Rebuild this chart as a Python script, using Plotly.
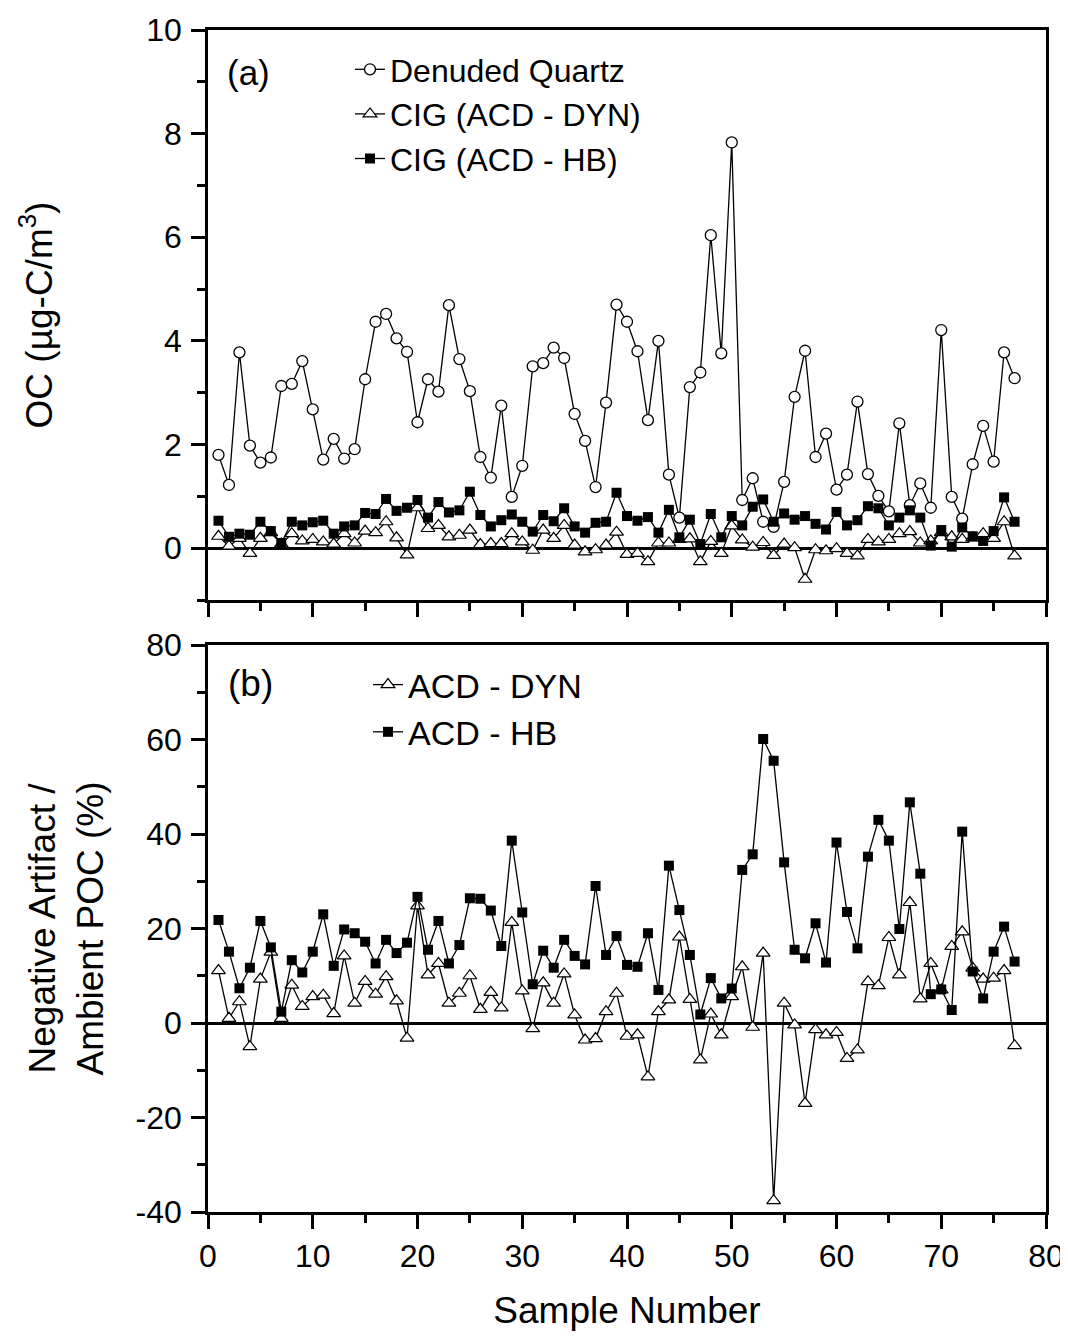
import plotly.graph_objects as go

samples = list(range(1, 78))

denuded_quartz = [1.80, 1.22, 3.78, 1.98, 1.65, 1.75, 3.13, 3.17, 3.61, 2.68,
                  1.71, 2.11, 1.73, 1.91, 3.26, 4.37, 4.52, 4.05, 3.79, 2.43,
                  3.26, 3.02, 4.69, 3.65, 3.03, 1.76, 1.36, 2.75, 0.99, 1.59,
                  3.51, 3.57, 3.87, 3.67, 2.59, 2.07, 1.18, 2.81, 4.70, 4.37,
                  3.80, 2.47, 4.00, 1.42, 0.59, 3.11, 3.39, 6.04, 3.76, 7.83,
                  0.93, 1.35, 0.51, 0.41, 1.28, 2.92, 3.81, 1.76, 2.21, 1.13,
                  1.42, 2.83, 1.43, 1.01, 0.71, 2.41, 0.83, 1.25, 0.78, 4.21,
                  0.99, 0.57, 1.62, 2.36, 1.67, 3.78, 3.28]

cig_dyn = [0.23, 0.04, 0.19, -0.10, 0.19, 0.30, 0.08, 0.28, 0.14, 0.17,
           0.12, 0.08, 0.28, 0.10, 0.33, 0.30, 0.51, 0.20, -0.13, 0.78,
           0.38, 0.44, 0.22, 0.25, 0.35, 0.07, 0.09, 0.09, 0.28, 0.12,
           -0.04, 0.35, 0.19, 0.44, 0.06, -0.07, -0.03, 0.06, 0.31, -0.12,
           -0.10, -0.26, 0.10, 0.10, 0.17, 0.18, -0.26, 0.13, -0.10, 0.43,
           0.16, 0.02, 0.11, -0.14, 0.08, 0.01, -0.60, -0.03, -0.05, -0.01,
           -0.10, -0.15, 0.17, 0.12, 0.17, 0.28, 0.32, 0.10, 0.14, 0.30,
           0.22, 0.17, 0.20, 0.28, 0.19, 0.51, -0.15]

cig_hb = [0.53, 0.22, 0.28, 0.26, 0.51, 0.33, 0.10, 0.51, 0.44, 0.50,
          0.53, 0.28, 0.42, 0.44, 0.68, 0.66, 0.95, 0.72, 0.78, 0.93,
          0.59, 0.89, 0.69, 0.73, 1.09, 0.64, 0.42, 0.54, 0.65, 0.51,
          0.32, 0.64, 0.52, 0.77, 0.42, 0.30, 0.49, 0.51, 1.07, 0.62,
          0.53, 0.60, 0.30, 0.74, 0.21, 0.55, 0.08, 0.66, 0.21, 0.62,
          0.44, 0.80, 0.94, 0.51, 0.67, 0.55, 0.62, 0.47, 0.36, 0.70,
          0.44, 0.54, 0.81, 0.77, 0.44, 0.59, 0.73, 0.59, 0.05, 0.35,
          0.03, 0.40, 0.23, 0.14, 0.33, 0.98, 0.51]

pct_dyn = [11.1, 1.0, 4.5, -5.0, 9.3, 15.0, 1.0, 8.0, 3.5, 5.6,
           5.9, 2.0, 14.2, 4.2, 8.8, 6.1, 9.8, 4.7, -3.2, 24.8,
           10.2, 12.6, 4.2, 6.3, 10.0, 2.9, 6.5, 3.2, 21.3, 6.8,
           -1.2, 8.5, 4.2, 10.4, 1.7, -3.6, -3.3, 2.4, 6.3, -2.8,
           -2.5, -11.4, 2.4, 4.9, 18.2, 5.0, -7.8, 1.9, -2.5, 5.6,
           11.9, -0.9, 14.8, -37.6, 4.2, -0.4, -17.0, -1.4, -2.5, -2.0,
           -7.5, -5.7, 8.75, 7.9, 18.1, 10.2, 25.5, 5.1, 12.6, 7.0,
           16.2, 19.3, 11.6, 9.3, 9.5, 11.1, -4.8]

pct_hb = [21.8, 15.1, 7.35, 11.7, 21.6, 16.0, 2.4, 13.3, 10.7, 15.1,
          23.0, 12.1, 19.8, 19.0, 17.2, 12.6, 17.6, 14.8, 17.0, 26.7,
          15.5, 21.6, 12.6, 16.5, 26.4, 26.3, 23.8, 16.3, 38.6, 23.4,
          8.2, 15.3, 11.7, 17.6, 14.2, 12.4, 29.0, 14.4, 18.4, 12.3,
          11.9, 19.0, 7.0, 33.3, 23.9, 14.4, 1.8, 9.5, 5.2, 7.3,
          32.4, 35.7, 60.1, 55.5, 34.0, 15.5, 13.7, 21.1, 12.8, 38.2,
          23.5, 15.8, 35.2, 43.0, 38.6, 19.9, 46.7, 31.6, 6.1, 7.1,
          2.75, 40.5, 10.9, 5.2, 15.1, 20.4, 13.0]

oc_tickvals = [0, 2, 4, 6, 8, 10]
oc_ticktext = ["0", "2", "4", "6", "8", "10"]
pct_tickvals = [-40, -20, 0, 20, 40, 60, 80]
pct_ticktext = ["-40", "-20", "0", "20", "40", "60", "80"]
sample_tickvals = [0, 10, 20, 30, 40, 50, 60, 70, 80]
sample_ticktext = ["0", "10", "20", "30", "40", "50", "60", "70", "80"]

FONT = "Liberation Sans, Arial, Helvetica, sans-serif"
LW = 1.3

circle = dict(symbol="circle", size=11, color="white", line=dict(color="black", width=1.3))
tri = dict(symbol="triangle-up", size=12, color="white", line=dict(color="black", width=1.2))
sq = dict(symbol="square", size=10, color="black", line=dict(color="black", width=0))

fig = go.Figure()
fig.add_trace(go.Scatter(x=samples, y=denuded_quartz, mode="lines+markers", name="Denuded Quartz",
                         line=dict(color="black", width=LW), marker=circle,
                         xaxis="x", yaxis="y", legend="legend"))
fig.add_trace(go.Scatter(x=samples, y=cig_dyn, mode="lines+markers", name="CIG (ACD - DYN)",
                         line=dict(color="black", width=LW), marker=tri,
                         xaxis="x", yaxis="y", legend="legend"))
fig.add_trace(go.Scatter(x=samples, y=cig_hb, mode="lines+markers", name="CIG (ACD - HB)",
                         line=dict(color="black", width=LW), marker=sq,
                         xaxis="x", yaxis="y", legend="legend"))
fig.add_trace(go.Scatter(x=samples, y=pct_dyn, mode="lines+markers", name="ACD - DYN",
                         line=dict(color="black", width=LW), marker=tri,
                         xaxis="x2", yaxis="y2", legend="legend2"))
fig.add_trace(go.Scatter(x=samples, y=pct_hb, mode="lines+markers", name="ACD - HB",
                         line=dict(color="black", width=LW), marker=sq,
                         xaxis="x2", yaxis="y2", legend="legend2"))

axis_common = dict(showgrid=False, showline=True, linecolor="black", linewidth=2.5,
                   mirror=True, ticks="outside", tickcolor="black", tickwidth=2.5,
                   ticklen=14, zeroline=False,
                   tickfont=dict(family=FONT, size=32, color="black"))
minor_common = dict(ticks="outside", ticklen=8, tickwidth=2.5, tickcolor="black")
title_font = dict(family=FONT, size=37, color="black")

# page has an 8px body margin; the figure is sized to end at the window's right/bottom edge
OFF = 8
W, H = 1068 - OFF, 1339 - 2 * OFF
PL, PR, PT, PB = 208, 1046, 30, 1212          # plot area in window pixels
ml, mr, mt, mb = PL - OFF, W - (PR - OFF), PT - OFF, H - (PB - OFF)
pw, ph = PR - PL, PB - PT


def px_x(sx):
    return (sx - PL) / pw


def px_y(sy):
    return (PB - sy) / ph


fig.update_layout(
    width=W, height=H,
    margin=dict(l=ml, r=mr, t=mt, b=mb, autoexpand=False),
    paper_bgcolor="white", plot_bgcolor="white",
    font=dict(family=FONT, color="black"),
    xaxis=dict(axis_common, domain=[0, 1], range=[0, 80], anchor="y", dtick=10,
               showticklabels=False, minor=dict(minor_common, dtick=5)),
    yaxis=dict(axis_common, domain=[px_y(600), 1], range=[-1, 10], anchor="x",
               tickmode="array", tickvals=oc_tickvals, ticktext=oc_ticktext,
               ticklabelstandoff=3,
               zeroline=True, zerolinecolor="black", zerolinewidth=3,
               minor=dict(minor_common, dtick=1, tick0=0),
               title=dict(text="OC (µg-C/m<sup>3</sup>)", standoff=83, font=title_font)),
    xaxis2=dict(axis_common, domain=[0, 1], range=[0, 80], anchor="y2",
                tickmode="array", tickvals=sample_tickvals, ticktext=sample_ticktext,
                ticklabeloverflow="allow",
                minor=dict(minor_common, dtick=5, tick0=0),
                title=dict(text="Sample Number", standoff=34, font=title_font)),
    yaxis2=dict(axis_common, domain=[0, px_y(645)], range=[-40, 80], anchor="x2",
                tickmode="array", tickvals=pct_tickvals, ticktext=pct_ticktext,
                ticklabelstandoff=3,
                zeroline=True, zerolinecolor="black", zerolinewidth=3,
                minor=dict(minor_common, dtick=10, tick0=0),
                title=dict(text="Negative Artifact /<br>Ambient POC (%)", standoff=21,
                           font=title_font)),
    legend=dict(x=px_x(350), y=px_y(42), xanchor="left", yanchor="top",
                bgcolor="rgba(0,0,0,0)", font=dict(family=FONT, size=32, color="black"),
                tracegroupgap=0, itemwidth=30),
    legend2=dict(x=px_x(368), y=px_y(656), xanchor="left", yanchor="top",
                 bgcolor="rgba(0,0,0,0)", font=dict(family=FONT, size=34, color="black"),
                 tracegroupgap=0, itemwidth=30),
    annotations=[
        dict(text="(a)", xref="paper", yref="paper", x=px_x(225), y=px_y(73),
             xanchor="left", yanchor="middle", showarrow=False,
             font=dict(family=FONT, size=35, color="black")),
        dict(text="(b)", xref="paper", yref="paper", x=px_x(226), y=px_y(683),
             xanchor="left", yanchor="middle", showarrow=False,
             font=dict(family=FONT, size=37, color="black")),
    ],
)

fig.write_html("out.html")
